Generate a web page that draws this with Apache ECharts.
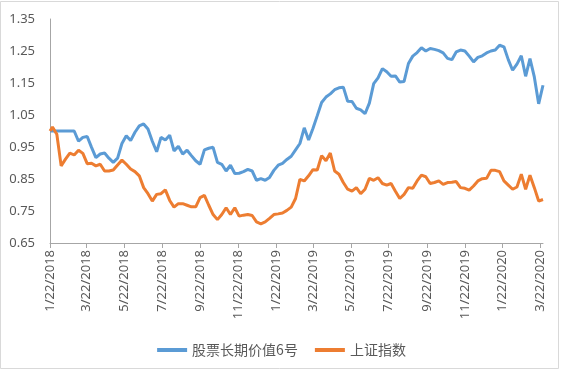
<!DOCTYPE html>
<html><head><meta charset="utf-8">
<script src="https://cdn.jsdelivr.net/npm/echarts@6/dist/echarts.min.js"></script>
<style>html,body{margin:0;padding:0;background:#fff}#c{width:563px;height:374px}</style>
</head><body><div id="c"></div><script>
const seriesNames = ['股票长期价值6号', '上证指数'];
const tickLabels = ['1/22/2018','3/22/2018','5/22/2018','7/22/2018','9/22/2018','11/22/2018',
  '1/22/2019','3/22/2019','5/22/2019','7/22/2019','9/22/2019','11/22/2019','1/22/2020','3/22/2020'];
const yTicks = [0.65, 0.75, 0.85, 0.95, 1.05, 1.15, 1.25, 1.35];

// weekly net values (first point 1/22/2018, then Fridays to 3/27/2020)
const fund = [
  1.0, 1.0, 1.0, 1.0, 1.0, 1.0, 1.0, 0.968, 0.98, 0.983,
  0.949, 0.917, 0.928, 0.931, 0.915, 0.902, 0.915, 0.961, 0.985, 0.97,
  0.996, 1.016, 1.022, 1.006, 0.968, 0.935, 0.98, 0.972, 0.987, 0.938,
  0.952, 0.928, 0.94, 0.923, 0.907, 0.896, 0.941, 0.946, 0.949, 0.902,
  0.896, 0.875, 0.893, 0.867, 0.868, 0.873, 0.88, 0.875, 0.846, 0.851,
  0.846, 0.855, 0.877, 0.893, 0.899, 0.911, 0.921, 0.941, 0.961, 1.01,
  0.972, 1.008, 1.048, 1.089, 1.106, 1.116, 1.129, 1.135, 1.137, 1.093,
  1.092, 1.071, 1.066, 1.054, 1.087, 1.148, 1.166, 1.195, 1.185, 1.171,
  1.172, 1.153, 1.155, 1.211, 1.234, 1.245, 1.26, 1.25, 1.258, 1.255,
  1.251, 1.244, 1.227, 1.223, 1.247, 1.253, 1.25, 1.234, 1.216, 1.23,
  1.235, 1.244, 1.25, 1.253, 1.268, 1.263, 1.223, 1.19, 1.209, 1.235,
  1.171, 1.226, 1.169, 1.085, 1.143
];
const szIndex = [
  1.0, 1.012, 0.99, 0.891, 0.912, 0.931, 0.925, 0.94, 0.93, 0.898,
  0.899, 0.891, 0.896, 0.875, 0.875, 0.878, 0.894, 0.909, 0.896, 0.881,
  0.873, 0.86, 0.823, 0.804, 0.781, 0.802, 0.804, 0.816, 0.783, 0.762,
  0.773, 0.773, 0.768, 0.763, 0.763, 0.792, 0.799, 0.768, 0.739, 0.723,
  0.739, 0.76, 0.739, 0.76, 0.734, 0.737, 0.739, 0.736, 0.716, 0.71,
  0.716, 0.727, 0.739, 0.741, 0.744, 0.752, 0.762, 0.789, 0.849, 0.844,
  0.86, 0.879, 0.878, 0.923, 0.907, 0.931, 0.875, 0.865, 0.839, 0.818,
  0.812, 0.823, 0.804, 0.818, 0.852, 0.846, 0.854, 0.836, 0.831, 0.836,
  0.812, 0.789, 0.802, 0.823, 0.821, 0.844, 0.862, 0.857, 0.836, 0.839,
  0.844, 0.833, 0.839, 0.84, 0.842, 0.823, 0.821, 0.815, 0.828, 0.844,
  0.851, 0.852, 0.877, 0.877, 0.873, 0.844, 0.831, 0.818, 0.825, 0.865,
  0.818, 0.862, 0.823, 0.781, 0.786
];

const DAY = 86400000;
function fmt(d) { return (d.getUTCMonth() + 1) + '/' + d.getUTCDate() + '/' + d.getUTCFullYear(); }
const startT = Date.UTC(2018, 0, 22), endT = Date.UTC(2020, 2, 27);
const categories = [];
for (let t = startT; t <= endT; t += DAY) categories.push(fmt(new Date(t)));
const obsDates = ['1/22/2018'];
for (let t = Date.UTC(2018, 0, 26); t <= endT; t += 7 * DAY) obsDates.push(fmt(new Date(t)));

const toPairs = arr => arr.map((v, i) => [categories.indexOf(obsDates[i]), v]);
const showTick = (i, v) => tickLabels.indexOf(v) >= 0;

const chart = echarts.init(document.getElementById('c'), null, { renderer: 'canvas' });
const txt = '#595959', axisCol = '#a6a6a6';
chart.setOption({
  animation: false,
  backgroundColor: '#fff',
  graphic: [{
    type: 'rect', shape: { x: 0.5, y: 1.5, width: 558, height: 367 },
    style: { fill: 'none', stroke: '#d9d9d9', lineWidth: 1 }, silent: true, z: -1
  }],
  grid: { left: 50, right: 20, top: 19, bottom: 131, containLabel: false },
  legend: {
    top: 338, left: 'center', itemGap: 17, itemWidth: 30, itemHeight: 4, icon: 'rect',
    textStyle: { color: txt, fontSize: 14, fontFamily: 'Noto Sans CJK SC' },
    data: seriesNames
  },
  xAxis: {
    type: 'category', data: categories, boundaryGap: false,
    axisLine: { lineStyle: { color: axisCol, width: 1 } },
    axisTick: { interval: showTick, length: 5, lineStyle: { color: axisCol } },
    axisLabel: {
      interval: showTick, rotate: 90, margin: 7, color: txt, fontSize: 13,
      fontFamily: 'Noto Sans'
    },
    splitLine: { show: false }
  },
  yAxis: {
    type: 'value', min: yTicks[0], max: yTicks[yTicks.length - 1], interval: 0.1,
    axisLine: { show: true, lineStyle: { color: axisCol, width: 1 } },
    axisTick: { show: false },
    splitLine: { show: false },
    axisLabel: {
      color: txt, fontSize: 13, fontFamily: 'Noto Sans', margin: 15,
      formatter: v => v.toFixed(2)
    }
  },
  series: [
    { name: seriesNames[0], type: 'line', data: toPairs(fund), showSymbol: false,
      lineStyle: { width: 3, color: '#5B9BD5' }, itemStyle: { color: '#5B9BD5' } },
    { name: seriesNames[1], type: 'line', data: toPairs(szIndex), showSymbol: false,
      lineStyle: { width: 3, color: '#ED7D31' }, itemStyle: { color: '#ED7D31' } }
  ]
});
</script></body></html>
